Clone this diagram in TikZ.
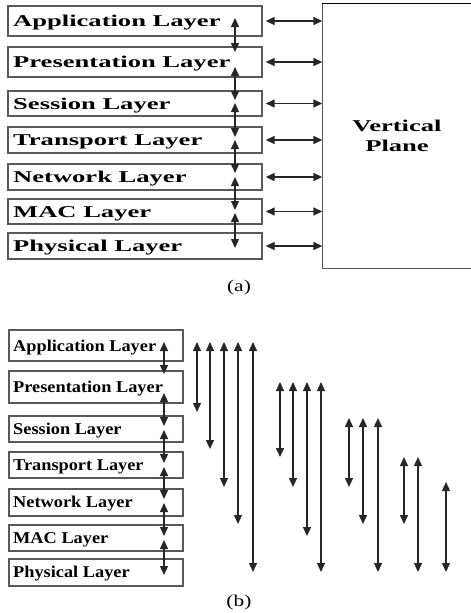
\documentclass[tikz,border=0pt]{standalone}
\usepackage{fontspec}
\setmainfont{Liberation Serif}
\usepackage{graphicx}
\usetikzlibrary{arrows.meta}
\newcommand{\wideA}[1]{\scalebox{1.61}[1]{#1}}
\newcommand{\wideB}[1]{\scalebox{1.11}[1]{#1}}
\begin{document}
\begin{tikzpicture}[x=1pt,y=-1pt,
  box/.style={draw=black!65,line width=1.4pt,rectangle,inner sep=0pt},
  lblA/.style={anchor=base west,inner sep=0pt,font=\fontsize{16.5}{19}\selectfont\bfseries},
  lblB/.style={anchor=base west,inner sep=0pt,font=\fontsize{16.5}{19}\selectfont\bfseries},
  figcap/.style={inner sep=0pt,anchor=base,font=\fontsize{16.5}{19}\selectfont},
  dbl/.style={line width=1.4pt,draw=black!85,{Triangle[length=9pt,width=8pt]}-{Triangle[length=9pt,width=8pt]}}
]
\useasboundingbox (0,0) rectangle (471,613);

% ---------- (a) ----------
\foreach \n/\ya/\yb in {1/6/36,2/47/77,3/91/116,4/127/153,5/164/190,6/199/224,7/233/259}{
  \node[box,minimum width=254pt,minimum height={(\yb-\ya)*1pt}] (a\n) at (135,{(\ya+\yb)/2}) {};
}
\node[lblA] (a1t) at (13,26.5) {\wideA{Application Layer}};
\node[lblA] (a2t) at (13,67.5) {\wideA{Presentation Layer}};
\node[lblA] (a3t) at (13,109) {\wideA{Session Layer}};
\node[lblA] (a4t) at (13,145.5) {\wideA{Transport Layer}};
\node[lblA] (a5t) at (13,182.5) {\wideA{Network Layer}};
\node[lblA] (a6t) at (13,217) {\wideA{MAC Layer}};
\node[lblA] (a7t) at (13,251.5) {\wideA{Physical Layer}};

\node[minimum width=149pt,minimum height=264pt,inner sep=0pt,align=center,
      font=\fontsize{16.5}{19.5}\selectfont\bfseries] (vp) at (397,136) {\wideA{Vertical}\\\wideA{Plane}};
\draw[line width=1pt,black] (vp.north east) -- (vp.north west);
\draw[line width=1.4pt,black!65] (vp.north west) -- (vp.south west) -- (vp.south east);

\foreach \n in {1,...,7}{
  \draw[dbl] ([xshift=3pt]a\n.east) -- (a\n.east -| vp.west);
}

\foreach \n/\ya/\yb in {1/18/52,2/67/100,3/103/137,4/140/173,5/177/210,6/213/248}{
  \coordinate (av\n s) at (235,\ya);
  \coordinate (av\n e) at (235,\yb);
  \draw[dbl] (av\n s) -- (av\n e);
}

\node[figcap] (capa) at (239,291) {\scalebox{1.3}[1]{(a)}};

% ---------- (b) ----------
\foreach \n/\ya/\yb in {1/330/361,2/371/403,3/416/442,4/452/478,5/489/516,6/525/551,7/559/586}{
  \node[box,minimum width=174pt,minimum height={(\yb-\ya)*1pt}] (b\n) at (96,{(\ya+\yb)/2}) {};
}
\node[lblB] (b1t) at (13,351) {\wideB{Application Layer}};
\node[lblB] (b2t) at (13,392.5) {\wideB{Presentation Layer}};
\node[lblB] (b3t) at (13,434) {\wideB{Session Layer}};
\node[lblB] (b4t) at (13,470) {\wideB{Transport Layer}};
\node[lblB] (b5t) at (13,507.5) {\wideB{Network Layer}};
\node[lblB] (b6t) at (13,543) {\wideB{MAC Layer}};
\node[lblB] (b7t) at (13,577.5) {\wideB{Physical Layer}};

\foreach \n/\ya/\yb in {1/342/374,2/393/426,3/430/463,4/467/499,5/503/536,6/540/575}{
  \coordinate (bv\n s) at (164,\ya);
  \coordinate (bv\n e) at (164,\yb);
  \draw[dbl] (bv\n s) -- (bv\n e);
}

\foreach \k/\x/\ya/\yb in {
  1/197/342/412, 2/210/342/449, 3/224/342/487, 4/238/342/524, 5/253/342/572,
  6/280/382/457, 7/293/382/487, 8/307/382/536, 9/321/382/572,
  10/349/418/487, 11/363/418/524, 12/378/418/572,
  13/404/457/524, 14/418/457/572,
  15/446/482/572}{
  \coordinate (g\k s) at (\x,\ya);
  \coordinate (g\k e) at (\x,\yb);
  \draw[dbl] (g\k s) -- (g\k e);
}

\node[figcap] (capb) at (239,606) {\scalebox{1.3}[1]{(b)}};
\end{tikzpicture}
\end{document}
